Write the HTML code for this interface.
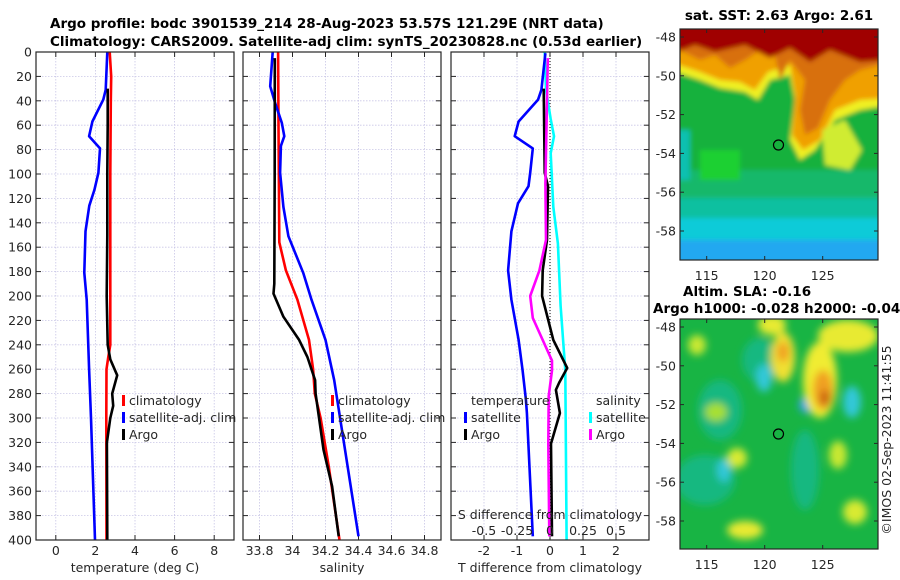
<!DOCTYPE html>
<html><head><meta charset="utf-8">
<style>
html,body{margin:0;padding:0;background:#fff;}
svg{display:block;font-family:"DejaVu Sans","Liberation Sans",sans-serif;}
.tk{font-size:12.5px;fill:#262626;}
.ttl{font-size:13.5px;font-weight:bold;fill:#000;}
</style></head>
<body>
<svg id="fig" width="900" height="580" viewBox="0 0 900 580" xmlns="http://www.w3.org/2000/svg">
<defs>
<filter id="blr" x="-5%" y="-5%" width="110%" height="110%"><feGaussianBlur stdDeviation="2.5"/></filter>
<filter id="blr2" x="-5%" y="-5%" width="110%" height="110%"><feGaussianBlur stdDeviation="4"/></filter>
<clipPath id="cm1"><rect x="680" y="29" width="198" height="231"/></clipPath>
<clipPath id="cm2"><rect x="680" y="319" width="198" height="230"/></clipPath>
</defs>
<text class="ttl" x="50" y="28">Argo profile: bodc 3901539_214 28-Aug-2023 53.57S 121.29E (NRT data)</text>
<text class="ttl" x="50" y="46">Climatology: CARS2009. Satellite-adj clim: synTS_20230828.nc (0.53d earlier)</text>
<g id="panels"></g>
<g id="maps"></g>
</svg>
<script>
// ---------- data ----------
const depthTicks=[0,20,40,60,80,100,120,140,160,180,200,220,240,260,280,300,320,340,360,380,400];
const tTicks=[0,2,4,6,8];
const sTicks=[33.8,34,34.2,34.4,34.6,34.8];
const dTTicks=[-2,-1,0,1,2];
const dSTicks=[-0.5,-0.25,0,0.25,0.5];
const dSTickLabels=["-0.5","-0.25","0","0.25","0.5"];

const tClimD=[0,20,40,100,200,240,250,260,300,400];
const tClimV=[2.72,2.8,2.78,2.75,2.75,2.75,2.65,2.56,2.55,2.56];
const tSatD=[0,31,39,57,69,79,99,113,126,147,181,203,260,300,400];
const tSatV=[2.6,2.52,2.4,1.85,1.68,2.23,2.15,1.95,1.69,1.5,1.44,1.56,1.68,1.78,1.98];
const tArgoD=[30,60,100,150,200,240,252,265,280,290,300,320,400];
const tArgoV=[2.62,2.62,2.6,2.6,2.57,2.62,2.75,3.1,2.85,2.9,2.75,2.58,2.6];

const sClimD=[0,60,156,179,203,236,260,280,300,340,400];
const sClimV=[33.913,33.915,33.92,33.96,34.03,34.1,34.125,34.135,34.17,34.22,34.285];
const sSatD=[0,28,42,58,69,77,99,127,151,181,203,236,269,397];
const sSatV=[33.88,33.865,33.895,33.935,33.95,33.93,33.925,33.945,33.975,34.065,34.115,34.2,34.253,34.4];
const sArgoD=[5,100,190,198,217,236,250,269,280,326,356,397];
const sArgoV=[33.893,33.892,33.89,33.885,33.945,34.04,34.09,34.137,34.14,34.188,34.24,34.28];

const dTSatD=[1,31,39,57,69,79,99,110,124,147,179,203,236,261,285,296,397];
const dTSatV=[-0.14,-0.26,-0.36,-0.95,-1.07,-0.52,-0.6,-0.65,-0.97,-1.17,-1.27,-1.17,-0.95,-0.83,-0.73,-0.7,-0.52];
const dTArgoD=[30,99,110,154,179,200,236,259,271,277,296,321,397];
const dTArgoV=[-0.19,-0.16,-0.06,-0.09,-0.22,-0.24,0.1,0.52,0.28,0.18,0.3,0.03,0.06];
const dSArgoD=[5,108,154,179,200,218,253,261,282,321,397];
const dSArgoV=[-0.017,-0.035,-0.03,-0.08,-0.15,-0.13,0.015,0.015,-0.01,-0.013,-0.005];
const dSSatD=[0,31,55,69,83,127,157,208,261,400];
const dSSatV=[-0.04,-0.03,0.005,0.03,0.005,0.025,0.06,0.08,0.116,0.126];

// ---------- helpers ----------
const NS="http://www.w3.org/2000/svg";
function mk(parent,tag,attrs){const e=document.createElementNS(NS,tag);for(const k in attrs)e.setAttribute(k,attrs[k]);parent.appendChild(e);return e;}
const top0=52, bot0=540;
const yD=d=>top0+d*(bot0-top0)/400;
const panels=document.getElementById('panels');

function panel(name,x0,x1,dom,xt,xtl,xlabel,showY){
  const g=mk(panels,'g',{});
  
  
  const xs=v=>x0+(v-dom[0])*(x1-x0)/(dom[1]-dom[0]);
  xt.forEach(v=>{const l=mk(g,'line',{x1:xs(v),x2:xs(v),y1:top0,y2:bot0,stroke:'#c9c6e6','stroke-width':0.8,'stroke-dasharray':'1.5,1.5'});
    });
  depthTicks.forEach(d=>{const l=mk(g,'line',{x1:x0,x2:x1,y1:yD(d),y2:yD(d),stroke:'#c9c6e6','stroke-width':0.8,'stroke-dasharray':'1.5,1.5'});
    });
  depthTicks.forEach(d=>{mk(g,'line',{x1:x0,x2:x0+5,y1:yD(d),y2:yD(d),stroke:'#262626','stroke-width':1});
    mk(g,'line',{x1:x1-5,x2:x1,y1:yD(d),y2:yD(d),stroke:'#262626','stroke-width':1});
    if(showY){const t=mk(g,'text',{x:x0-4,y:yD(d)+4.5,'text-anchor':'end',class:'tk'});t.textContent=d;
      }});
  xt.forEach((v,i)=>{mk(g,'line',{x1:xs(v),x2:xs(v),y1:top0,y2:top0+5,stroke:'#262626','stroke-width':1});
    mk(g,'line',{x1:xs(v),x2:xs(v),y1:bot0-5,y2:bot0,stroke:'#262626','stroke-width':1});
    const t=mk(g,'text',{x:xs(v),y:555,'text-anchor':'middle',class:'tk'});t.textContent=xtl?xtl[i]:v;
    });
  const xl=mk(g,'text',{x:(x0+x1)/2,y:572,'text-anchor':'middle',class:'tk'});xl.textContent=xlabel;
  
  return {g,xs};
}
function frame(g,x0,x1){const r=mk(g,'rect',{x:x0,y:top0,width:x1-x0,height:bot0-top0,fill:'none',stroke:'#262626','stroke-width':1.2});
  }
function line(p,D,V,color,name,w){
  const pts=D.map((d,i)=>p.xs(V[i]).toFixed(1)+','+yD(d).toFixed(1)).join(' ');
  const l=mk(p.g,'polyline',{points:pts,fill:'none',stroke:color,'stroke-width':w||2.6,'stroke-linejoin':'round'});
  
}
function legend(g,x,y,items){
  items.forEach((it,i)=>{
    const yy=y+i*17;
    if(it.c){const m=mk(g,'rect',{x:x,y:yy-10,width:3,height:11,fill:it.c});
      }
    const t=mk(g,'text',{x:x+7,y:yy,class:'tk','font-size':'13px'});t.textContent=it.t;
    
  });
}

const p1=panel('temperature-panel',36,234,[-1,9],tTicks,null,'temperature (deg C)',true);
line(p1,tClimD,tClimV,'#ff0000','temp-climatology-line');
line(p1,tSatD,tSatV,'#0000ff','temp-satellite-line');
line(p1,tArgoD,tArgoV,'#000000','temp-argo-line');
legend(p1.g,122,405,[{c:'#ff0000',t:'climatology'},{c:'#0000ff',t:'satellite-adj. clim'},{c:'#000',t:'Argo'}]);
frame(p1.g,36,234);

const p2=panel('salinity-panel',243,441,[33.7,34.9],sTicks,null,'salinity',false);
line(p2,sClimD,sClimV,'#ff0000','sal-climatology-line');
line(p2,sSatD,sSatV,'#0000ff','sal-satellite-line');
line(p2,sArgoD,sArgoV,'#000000','sal-argo-line');
legend(p2.g,331,405,[{c:'#ff0000',t:'climatology'},{c:'#0000ff',t:'satellite-adj. clim'},{c:'#000',t:'Argo'}]);
frame(p2.g,243,441);

const p3=panel('difference-panel',451,649,[-3,3],dTTicks,null,'T difference from climatology',false);
const xs3S=v=>p3.xs(v*4);
const zl=mk(p3.g,'line',{x1:p3.xs(0),x2:p3.xs(0),y1:top0,y2:bot0,stroke:'#000','stroke-width':1,'stroke-dasharray':'1,2'});

const pS={g:p3.g,xs:xs3S};
line(pS,dSSatD,dSSatV,'#00ffff','sal-diff-satellite-line');
line(p3,dTSatD,dTSatV,'#0000ff','temp-diff-satellite-line');
line(p3,dTArgoD,dTArgoV,'#000000','temp-diff-argo-line');
line(pS,dSArgoD,dSArgoV,'#ff00ff','sal-diff-argo-line');
legend(p3.g,464,405,[{t:'temperature'},{c:'#0000ff',t:'satellite'},{c:'#000',t:'Argo'}]);
legend(p3.g,589,405,[{t:'salinity'},{c:'#00ffff',t:'satellite'},{c:'#ff00ff',t:'Argo'}]);
const sl=mk(p3.g,'text',{x:550,y:519,'text-anchor':'middle',class:'tk','font-size':'13px'});sl.textContent='S difference from climatology';

dSTicks.forEach((v,i)=>{const t=mk(p3.g,'text',{x:xs3S(v),y:535,'text-anchor':'middle',class:'tk','font-size':'13px'});t.textContent=dSTickLabels[i];
  });
frame(p3.g,451,649);

// ---------- maps ----------
const maps=document.getElementById('maps');
const lonTicks=[115,120,125];
const latTicks=[-48,-50,-52,-54,-56,-58];
const lonX=l=>706.7+(l-115)*11.6;
function mapAxes(g,y0,y1,latY){
  lonTicks.forEach(l=>{mk(g,'line',{x1:lonX(l),x2:lonX(l),y1:y1-4,y2:y1,stroke:'#262626'});
    mk(g,'line',{x1:lonX(l),x2:lonX(l),y1:y0,y2:y0+4,stroke:'#262626'});
    const t=mk(g,'text',{x:lonX(l),y:y1+20,'text-anchor':'middle',class:'tk'});t.textContent=l;
    });
  latTicks.forEach(la=>{const y=latY(la);
    mk(g,'line',{x1:680,x2:684,y1:y,y2:y,stroke:'#262626'});mk(g,'line',{x1:874,x2:878,y1:y,y2:y,stroke:'#262626'});
    const t=mk(g,'text',{x:676,y:y+4.5,'text-anchor':'end',class:'tk'});t.textContent=la;
    });
  mk(g,'rect',{x:680,y:y0,width:198,height:y1-y0,fill:'none',stroke:'#262626','stroke-width':1.2});
}
const m1=mk(maps,'g',{});

const m1c=mk(m1,'g',{'clip-path':'url(#cm1)'});
const m1b=mk(m1c,'g',{filter:'url(#blr)'});
[
 ['#14b13c',670,20,220,260],
 ['#12b86a',670,170,220,40],
 ['#10c0a0',670,198,220,80],
 ['#0ccbd8',670,218,220,50],
 ['#22a8f0',670,240,220,30],
 ['#10c0b0',670,130,20,50],
 ['#1ad030',700,150,40,30],
].forEach(r=>mk(m1b,'rect',{x:r[1],y:r[2],width:r[3],height:r[4],fill:r[0]}));
[
 ['#f0f020',['670,70 700,80 720,88 745,92 758,100 770,80 790,75 795,100 790,140 800,160 815,150 835,120 860,110 890,105 890,20 670,20']],
 ['#f0a000',['670,62 700,72 720,80 740,82 755,90 768,72 790,65 795,95 792,135 803,150 820,140 835,110 860,100 890,98 890,20 670,20']],
 ['#d87010',['680,50 700,60 715,55 730,68 745,60 760,50 775,55 780,80 790,60 805,80 800,110 805,135 818,128 830,100 845,80 860,70 890,62 890,20 680,20']],
 ['#a00000',['670,20 890,20 890,60 860,62 830,50 810,62 790,48 770,58 745,45 715,52 695,45 670,55']],
 ['#d0ec30',['822,130 845,120 862,150 850,170 825,165']],
].forEach(p=>mk(m1b,'polygon',{points:p[1][0],fill:p[0]}));
mk(m1c,'circle',{cx:778.5,cy:145,r:5,fill:'none',stroke:'#000','stroke-width':1.2});
mapAxes(m1,29,260,la=>37+(-48-la)*19.4);
const t1=mk(m1,'text',{x:779,y:20,'text-anchor':'middle',class:'ttl','font-size':'13px'});t1.textContent='sat. SST: 2.63 Argo: 2.61';


const m2=mk(maps,'g',{});

const m2c=mk(m2,'g',{'clip-path':'url(#cm2)'});
mk(m2c,'rect',{x:680,y:319,width:198,height:230,fill:'#18b444'});
const m2b=mk(m2c,'g',{filter:'url(#blr2)'});
[
 ['#14b880',720,410,22,30],['#14b880',760,360,18,22],['#30c8d8',764,378,8,14],['#2ea0f0',806,405,7,8],
 ['#30c8d8',852,402,9,16],['#14b880',705,480,30,25],['#14b880',805,470,14,40],['#30c8d8',724,470,7,12],
 ['#e8ea30',772,325,14,10],['#e8ea30',848,336,30,16],['#f0e030',783,357,12,25],['#f0a020',783,352,6,10],
 ['#f0ec30',820,380,17,38],['#f0a020',823,390,10,20],['#c86010',825,398,5,8],
 ['#d8ea30',737,458,10,10],['#e8ea30',745,530,18,9],['#d8ea30',855,512,12,12],['#c8e830',697,345,9,10],
 ['#c8e830',838,455,9,14],['#a8e030',716,412,11,9]
].forEach(e=>mk(m2b,'ellipse',{cx:e[1],cy:e[2],rx:e[3],ry:e[4],fill:e[0]}));
mk(m2c,'circle',{cx:778.5,cy:434,r:5,fill:'none',stroke:'#000','stroke-width':1.2});
mapAxes(m2,319,549,la=>327+(-48-la)*19.4);
const t2=mk(m2,'text',{x:683,y:296,class:'ttl','font-size':'13px'});t2.textContent='Altim. SLA: -0.16';

const t3=mk(m2,'text',{x:653,y:313,class:'ttl','font-size':'13px'});t3.textContent='Argo h1000: -0.028 h2000: -0.045';

const t4=mk(maps,'text',{x:0,y:0,class:'tk','text-anchor':'middle',transform:'translate(891,440) rotate(-90)'});t4.textContent='©IMOS 02-Sep-2023 11:41:55';

</script>
</body></html>
